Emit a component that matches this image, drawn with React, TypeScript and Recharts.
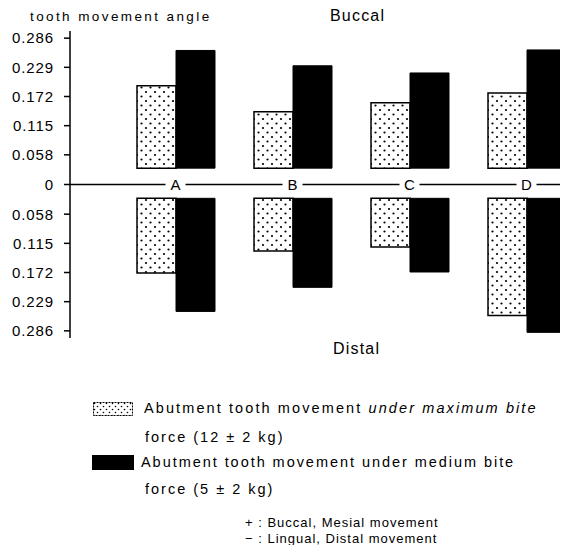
import React from 'react';
import { BarChart, Bar, XAxis, YAxis, ReferenceLine } from 'recharts';

const categories = ['A', 'B', 'C', 'D'];
const maxBiteBuccal = [0.193, 0.142, 0.16, 0.179];
const medBiteBuccal = [0.262, 0.232, 0.218, 0.263];
const maxBiteDistal = [0.173, 0.13, 0.122, 0.256];
const medBiteDistal = [0.248, 0.201, 0.171, 0.289];
const buccalBase = 0.032;
const distalBase = 0.027;
const yTicks = [-0.286, -0.229, -0.172, -0.115, -0.058, 0, 0.058, 0.115, 0.172, 0.229, 0.286];

const data = categories.map((c, i) => ({
  cat: c,
  maxUp: [buccalBase, maxBiteBuccal[i]],
  medUp: [buccalBase, medBiteBuccal[i]],
  maxDown: [-distalBase, -maxBiteDistal[i]],
  medDown: [-distalBase, -medBiteDistal[i]],
}));

const W = 600;
const H = 553;
const MARGIN = { top: 31, right: 0, left: 0, bottom: 185 };
const XAXIS_H = 30;
const PLOT_H = H - MARGIN.top - MARGIN.bottom - XAXIS_H;
const ZERO_Y = MARGIN.top + PLOT_H / 2;
const FONT = '"Liberation Sans", Arial, sans-serif';

const CatTick = (props: any) => {
  const { x, payload } = props;
  return (
    <g>
      <rect x={x - 10} y={ZERO_Y - 8} width={20} height={16} fill="#fff" />
      <text x={x} y={ZERO_Y} dy={5} textAnchor="middle" fontSize={15} fontFamily={FONT} fill="#000">
        {payload.value}
      </text>
    </g>
  );
};

const fmt = (v: number) => (v === 0 ? '0' : Math.abs(v).toFixed(3));

const txt: React.CSSProperties = {
  position: 'absolute',
  fontFamily: FONT,
  color: '#000',
  whiteSpace: 'nowrap',
  lineHeight: 1,
};

const DotSwatch = () => (
  <svg width={40} height={14} style={{ display: 'block' }}>
    <defs>
      <pattern id="dotsLegend" width="6" height="6" patternUnits="userSpaceOnUse">
        <rect width="6" height="6" fill="#fff" />
        <circle cx="1.5" cy="1.5" r="0.8" fill="#000" />
        <circle cx="4.5" cy="4.5" r="0.8" fill="#000" />
      </pattern>
    </defs>
    <rect x={0.5} y={0.5} width={39} height={13} fill="url(#dotsLegend)" stroke="#000" strokeDasharray="2 1" />
  </svg>
);

export default function App() {
  return (
    <div style={{ margin: -8, width: 568, height: 553, overflow: 'hidden', position: 'relative', background: '#fff' }}>
      <BarChart width={W} height={H} data={data} margin={MARGIN} barGap={0}>
        <defs>
          <pattern id="dots" width="9" height="9" patternUnits="userSpaceOnUse">
            <rect width="9" height="9" fill="#fff" />
            <circle cx="2" cy="2" r="1.1" fill="#000" />
            <circle cx="6.5" cy="6.5" r="1.1" fill="#000" />
          </pattern>
        </defs>
        <XAxis
          xAxisId="up"
          dataKey="cat"
          padding={{ left: 47, right: 15 }}
          axisLine={false}
          tickLine={false}
          height={XAXIS_H}
          tick={<CatTick />}
          interval={0}
        />
        <XAxis xAxisId="down" dataKey="cat" padding={{ left: 47, right: 15 }} hide height={0} />
        <YAxis
          type="number"
          domain={[-0.3, 0.3]}
          ticks={yTicks}
          tickFormatter={fmt}
          width={70}
          tickSize={6}
          tickMargin={10}
          axisLine={{ stroke: '#000', strokeWidth: 1.5 }}
          tickLine={{ stroke: '#000', strokeWidth: 1.5 }}
          tick={{ fontSize: 15, fill: '#000', fontFamily: FONT, letterSpacing: 0.9 }}
          interval={0}
        />
        <ReferenceLine y={0} xAxisId="up" stroke="#000" strokeWidth={1.3} />
        <Bar xAxisId="up" dataKey="maxUp" barSize={39} fill="url(#dots)" stroke="#000" strokeWidth={1.5} isAnimationActive={false} />
        <Bar xAxisId="up" dataKey="medUp" barSize={39} fill="#000" stroke="#000" isAnimationActive={false} />
        <Bar xAxisId="down" dataKey="maxDown" barSize={39} fill="url(#dots)" stroke="#000" strokeWidth={1.5} isAnimationActive={false} />
        <Bar xAxisId="down" dataKey="medDown" barSize={39} fill="#000" stroke="#000" isAnimationActive={false} />
      </BarChart>

      <div style={{ ...txt, left: 30, top: 10, fontSize: 13.5, letterSpacing: 2.4 }}>tooth movement angle</div>
      <div style={{ ...txt, left: 330, top: 8, fontSize: 16, letterSpacing: 1.2 }}>Buccal</div>
      <div style={{ ...txt, left: 333, top: 341, fontSize: 16, letterSpacing: 1.2 }}>Distal</div>

      <div style={{ position: 'absolute', left: 93, top: 402 }}><DotSwatch /></div>
      <div style={{ ...txt, left: 144, top: 401, fontSize: 14.5, letterSpacing: 2.1 }}>
        Abutment tooth movement <i>under maximum bite</i>
      </div>
      <div style={{ ...txt, left: 145, top: 430, fontSize: 14.5, letterSpacing: 2.0 }}>force (12 ± 2 kg)</div>
      <div style={{ position: 'absolute', left: 92, top: 455, width: 42, height: 15, background: '#000' }} />
      <div style={{ ...txt, left: 141, top: 455, fontSize: 14.5, letterSpacing: 1.95 }}>
        Abutment tooth movement under medium bite
      </div>
      <div style={{ ...txt, left: 145, top: 482, fontSize: 14.5, letterSpacing: 2.0 }}>force (5 ± 2 kg)</div>
      <div style={{ ...txt, left: 245, top: 516, fontSize: 13, letterSpacing: 1.0 }}>+ : Buccal, Mesial movement</div>
      <div style={{ ...txt, left: 245, top: 532, fontSize: 13, letterSpacing: 1.0 }}>− : Lingual, Distal movement</div>
    </div>
  );
}
